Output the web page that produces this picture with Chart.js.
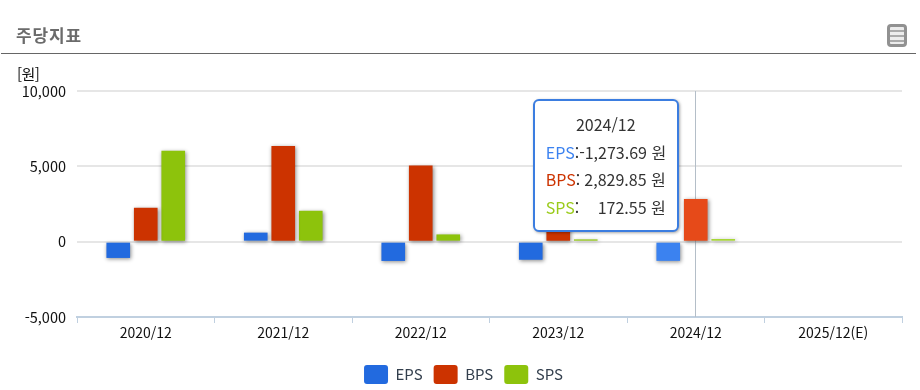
<!DOCTYPE html>
<html lang="ko">
<head>
<meta charset="utf-8">
<title>주당지표</title>
<script src="https://cdn.jsdelivr.net/npm/chart.js@4"></script>
<style>
  body { margin: 0; background: #fff; font-family: "Noto Sans CJK KR", sans-serif; }
  #wrap { position: relative; width: 920px; height: 390px; overflow: hidden; }
  #chart { position: absolute; left: 0; top: 0; }
  #title { position: absolute; left: 16px; top: 23px; font: bold 17px/24px "Noto Sans CJK KR", sans-serif; letter-spacing: 0.9px; color: #6b6b6b; }
  #rule { position: absolute; left: 1px; top: 53px; width: 915px; height: 1px; background: #666; }
  #unit { position: absolute; left: 17px; top: 64px; font-size: 15px; line-height: 20px; color: #111; letter-spacing: -0.5px; }
  #menu { position: absolute; left: 887px; top: 24px; width: 20px; height: 23px; box-sizing: border-box; border: 3px solid #919191; border-radius: 4px;
          background: repeating-linear-gradient(#ececec 0 3px, #aaa 3px 5px); }
  #tip { position: absolute; box-sizing: border-box; width: 146px; height: 133px; padding-top: 10px; background: #fff;
         border: 2px solid #3b7de0; border-radius: 6px; box-shadow: 1px 1px 3px rgba(0,0,0,.35);
         font-size: 16px; line-height: 27.5px; color: #333; }
  #tip .head { text-align: center; }
  #tip .row { display: flex; padding: 0 11px; justify-content: space-between; white-space: pre; }
</style>
</head>
<body>
<div id="wrap">
  <canvas id="chart" width="920" height="390"></canvas>
  <div id="title">주당지표</div>
  <div id="rule"></div>
  <div id="menu"></div>
  <div id="unit">[원]</div>
  <div id="tip"></div>
</div>
<script>
// --- DATA ---
const categories = ['2020/12', '2021/12', '2022/12', '2023/12', '2024/12', '2025/12(E)'];
const epsValues = [-1080, 600, -1280, -1200, -1273.69, null];
const bpsValues = [2250, 6350, 5050, 2700, 2829.85, null];
const spsValues = [6030, 2050, 480, 150, 172.55, null];
const yTicks = [-5000, 0, 5000, 10000];
const activeIndex = 4; // the hovered category in the picture

const FONT = '"Noto Sans CJK KR", sans-serif';
const money = v => v.toLocaleString('en-US', { minimumFractionDigits: 2, maximumFractionDigits: 2 });

// normal colour for every bar, brighter for the hovered one
const barColors = (normal, hover) => categories.map((c, i) => i === activeIndex ? hover : normal);

// soft shadow behind the bars, the vertical crosshair, and the legend nudged right
const barExtras = {
    id: 'barExtras',
    afterLayout(chart) {
        chart.legend.left += 25;
    },
    beforeDatasetsDraw(chart) {
        const { ctx, scales: { x }, chartArea } = chart;
        const px = Math.round(x.getPixelForValue(activeIndex)) - 0.5;
        ctx.save();
        ctx.strokeStyle = '#b4bec8';
        ctx.lineWidth = 1;
        ctx.beginPath();
        ctx.moveTo(px, chartArea.top);
        ctx.lineTo(px, chartArea.bottom);
        ctx.stroke();
        ctx.restore();
        ctx.save();
        ctx.shadowColor = 'rgba(0,0,0,0.45)';
        ctx.shadowBlur = 4;
        ctx.shadowOffsetX = 1;
        ctx.shadowOffsetY = 1;
    },
    afterDatasetsDraw(chart) {
        chart.ctx.restore();
    }
};

const chart = new Chart(document.getElementById('chart').getContext('2d'), {
    type: 'bar',
    data: {
        labels: categories,
        datasets: [
            { label: 'EPS', data: epsValues, backgroundColor: barColors('#226adf', '#3b82f0') },
            { label: 'BPS', data: bpsValues, backgroundColor: barColors('#cc3300', '#e64a19') },
            { label: 'SPS', data: spsValues, backgroundColor: barColors('#8dc30c', '#a3d62a') }
        ]
    },
    options: {
        responsive: false,
        animation: false,
        events: [],
        categoryPercentage: 0.6,
        barPercentage: 0.86,
        layout: { padding: { top: 91, right: 18, bottom: -4, left: 0 } },
        scales: {
            x: {
                grid: { drawOnChartArea: false, color: '#c0d0e0', lineWidth: 1, tickLength: 6 },
                border: { color: '#c0d0e0', width: 2 },
                ticks: { color: '#111', font: { family: FONT, size: 14 }, padding: 1, maxRotation: 0, autoSkip: false },
                afterFit(axis) { axis.height = 37; }
            },
            y: {
                min: yTicks[0],
                max: yTicks[yTicks.length - 1],
                afterBuildTicks(axis) { axis.ticks = yTicks.map(v => ({ value: v })); },
                grid: { color: '#e6e6e6', lineWidth: 2, drawTicks: false },
                border: { display: false },
                ticks: { color: '#111', font: { family: FONT, size: 14.5 }, padding: 11, callback: v => v.toLocaleString('en-US') },
                afterFit(axis) { axis.width = 77; }
            }
        },
        plugins: {
            tooltip: { enabled: false },
            legend: {
                position: 'bottom',
                labels: {
                    boxWidth: 24,
                    boxHeight: 19,
                    useBorderRadius: true,
                    borderRadius: 3,
                    color: '#333f4d',
                    padding: 11,
                    font: { family: FONT, size: 15 }
                }
            }
        }
    },
    plugins: [barExtras]
});

// --- TOOLTIP (html so that the label and the value can have separate colours) ---
const tip = document.getElementById('tip');
const tipRows = [['EPS', epsValues, '#3b82f0'], ['BPS', bpsValues, '#cc3300'], ['SPS', spsValues, '#9acb1a']];
tip.innerHTML = `<div class="head">${categories[activeIndex]}</div>` + tipRows.map(([name, vals, color]) =>
    `<div class="row"><span><span style="color:${color}">${name}</span>:</span><span>${money(vals[activeIndex])} 원</span></div>`
).join('');
tip.style.left = (chart.scales.x.getPixelForValue(activeIndex) - 163) + 'px';
tip.style.top = (chart.chartArea.top + 8) + 'px';
</script>
</body>
</html>
